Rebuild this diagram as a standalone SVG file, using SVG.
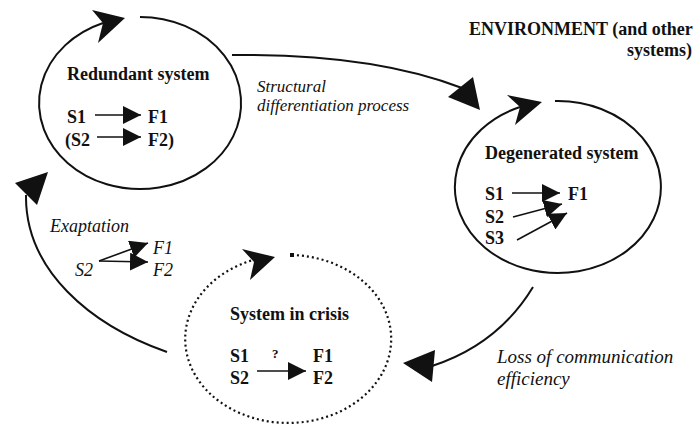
<svg xmlns="http://www.w3.org/2000/svg" width="696" height="428" viewBox="0 0 696 428">
<defs>
<marker id="ah" markerUnits="userSpaceOnUse" markerWidth="18" markerHeight="18" viewBox="0 0 16 16" refX="16" refY="8" orient="auto">
<path d="M0,0 L16,8 L0,16 Z" fill="#111"/>
</marker>
</defs>
<g font-family="Liberation Serif" font-weight="bold" font-size="18" fill="#111">
<text x="469" y="35">ENVIRONMENT (and other</text>
<text x="692" y="56" text-anchor="end">systems)</text>
</g>
<g id="redundant">
<path d="M140,17 A101,86 0 1 1 103,23" fill="none" stroke="#111" stroke-width="2"/>
<path d="M92,10 L125,18 L98,43 L103,23 Z" fill="#111"/>
<g font-family="Liberation Serif" font-weight="bold" font-size="18" fill="#111">
<text x="67" y="80">Redundant system</text>
<text x="67" y="123">S1</text>
<text x="148" y="123">F1</text>
<text x="65" y="146">(S2</text>
<text x="148" y="146">F2)</text>
</g>
<g fill="none" stroke="#111" stroke-width="1.6" marker-end="url(#ah)">
<path d="M95,115 L141,115"/>
<path d="M97,137 L141,137"/>
</g>
</g>
<g id="degenerated">
<path d="M555,101 A103,86 0 1 1 520,107" fill="none" stroke="#111" stroke-width="2"/>
<path d="M507,95 L542,102 L515,125 L520,107 Z" fill="#111"/>
<g font-family="Liberation Serif" font-weight="bold" font-size="18" fill="#111">
<text x="485" y="159">Degenerated system</text>
<text x="485" y="200">S1</text>
<text x="485" y="223">S2</text>
<text x="485" y="244">S3</text>
<text x="568" y="200">F1</text>
</g>
<g fill="none" stroke="#111" stroke-width="1.6" marker-end="url(#ah)">
<path d="M512,193 L560,193"/>
<path d="M513,217 L562,204"/>
<path d="M517,240 L567,213"/>
</g>
</g>
<g id="crisis">
<path d="M292,255 A103,84 0 1 1 253,260" fill="none" stroke="#111" stroke-width="2.2" stroke-dasharray="2 3"/>
<rect x="290" y="253" width="4" height="4" fill="#111"/>
<path d="M242,249 L275,257 L250,280 L254,262 Z" fill="#111"/>
<g font-family="Liberation Serif" font-weight="bold" font-size="18" fill="#111">
<text x="230" y="320">System in crisis</text>
<text x="230" y="362">S1</text>
<text x="272" y="358" font-size="13">?</text>
<text x="313" y="362">F1</text>
<text x="230" y="384">S2</text>
<text x="313" y="384">F2</text>
</g>
<path d="M257,371 L306,371" fill="none" stroke="#111" stroke-width="1.6" marker-end="url(#ah)"/>
</g>
<g id="exaptation-note">
<g font-family="Liberation Serif" font-style="italic" font-size="18" fill="#111">
<text x="50" y="232">Exaptation</text>
<text x="75" y="276">S2</text>
<text x="153" y="254">F1</text>
<text x="153" y="276">F2</text>
</g>
<g fill="none" stroke="#111" stroke-width="1.6" marker-end="url(#ah)">
<path d="M99,261 L148,243"/>
<path d="M99,261 L148,262"/>
</g>
</g>
<g id="connectors">
<g fill="none" stroke="#111" stroke-width="2">
<path d="M232,55 C320,54 400,64 462,88"/>
<path d="M533,287 C510,325 475,352 432,366"/>
<path d="M167,352 C90,325 25,270 26,195"/>
</g>
<g fill="#111">
<path d="M448,97 L473,77 L480,110 Z"/>
<path d="M403,363 L435,350 L432,382 Z"/>
<path d="M15,183 L48,172 L37,205 Z"/>
</g>
<g font-family="Liberation Serif" font-style="italic" font-size="17" fill="#111">
<text x="257" y="92">Structural</text>
<text x="257" y="111">differentiation process</text>
<text x="497" y="363" font-size="19">Loss of communication</text>
<text x="497" y="385" font-size="19">efficiency</text>
</g>
</g>
</svg>
